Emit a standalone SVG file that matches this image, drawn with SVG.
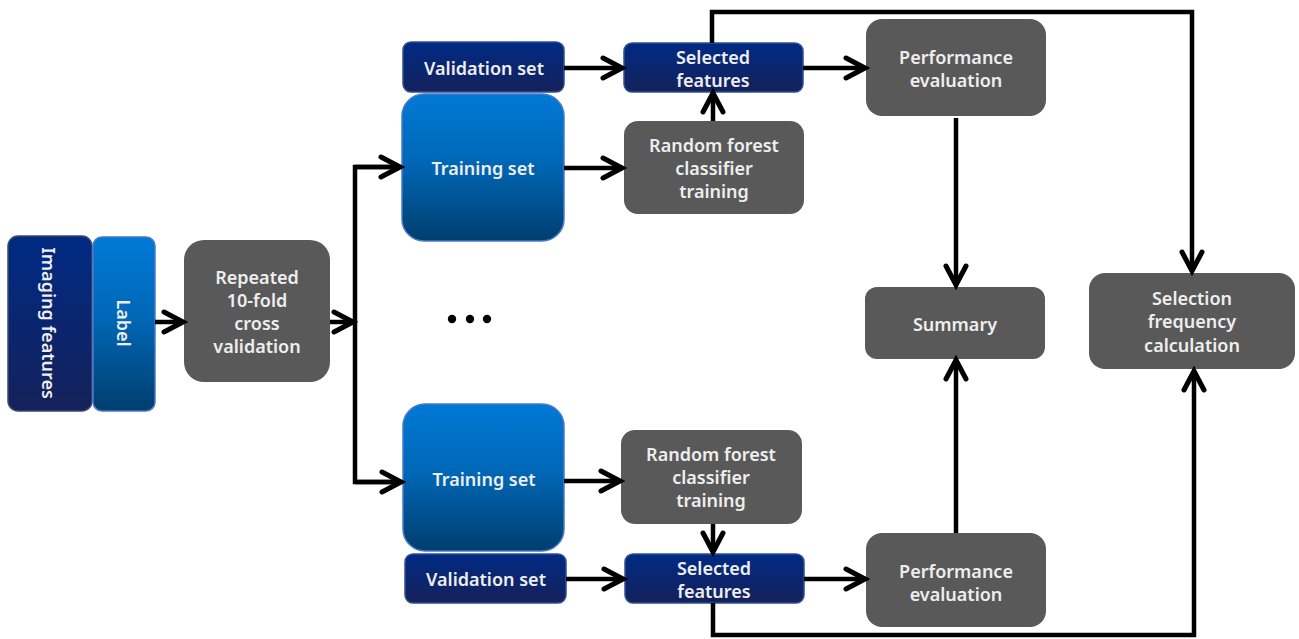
<svg xmlns="http://www.w3.org/2000/svg" width="1299" height="639" viewBox="0 0 1299 639">
<defs>
<linearGradient id="navy" x1="0" y1="0" x2="0" y2="1">
<stop offset="0" stop-color="#002a84"/>
<stop offset="1" stop-color="#15215a"/>
</linearGradient>
<linearGradient id="blue" x1="0" y1="0" x2="0" y2="1">
<stop offset="0" stop-color="#0079d6"/>
<stop offset="0.45" stop-color="#0068b8"/>
<stop offset="1" stop-color="#003e6e"/>
</linearGradient>
<marker id="arr" markerUnits="userSpaceOnUse" viewBox="-4 -4 30 30" markerWidth="30" markerHeight="30" refX="21" refY="11" orient="auto">
<path d="M2,1 L21,11 L2,21" fill="none" stroke="#000" stroke-width="5" stroke-linecap="round" stroke-linejoin="miter"/>
</marker>
<style>
.gray{fill:#595959;}
.navy{fill:url(#navy);stroke:#2e4f91;stroke-width:1.5;}
.blue{fill:url(#blue);stroke:#4a78cc;stroke-width:1.5;}
.t{font-family:"Noto Sans","Open Sans","Liberation Sans",sans-serif;font-size:18px;font-weight:600;fill:#eeeeee;text-anchor:middle;dominant-baseline:central;}
.c{fill:none;stroke:#000;stroke-width:4.5;}
.a{marker-end:url(#arr);}
</style>
</defs>

<g id="imaging-features">
<rect x="8" y="236" width="84" height="175" rx="10" fill="url(#navy)" stroke="#3b4a6b" stroke-width="1.5"/>
<text class="t" transform="translate(49,323) rotate(90)">Imaging features</text>
</g>
<g id="label">
<rect x="93" y="237" width="62" height="174" rx="9" class="blue"/>
<text class="t" transform="translate(124,323) rotate(90)">Label</text>
</g>
<g id="repeated-cv">
<rect x="184" y="240" width="146" height="142" rx="20" class="gray"/>
<text class="t" x="257" y="277">Repeated</text>
<text class="t" x="257" y="300">10-fold</text>
<text class="t" x="257" y="323">cross</text>
<text class="t" x="257" y="346">validation</text>
</g>

<g id="validation-set-1">
<rect x="403" y="42" width="161" height="50" rx="8" class="navy"/>
<text class="t" x="484" y="68">Validation set</text>
</g>
<g id="training-set-1">
<rect x="402" y="94" width="162" height="147" rx="22" class="blue"/>
<text class="t" x="483" y="168">Training set</text>
</g>
<g id="selected-features-1">
<rect x="624" y="43" width="179" height="49" rx="8" class="navy"/>
<text class="t" x="713" y="57">Selected</text>
<text class="t" x="713" y="80">features</text>
</g>
<g id="random-forest-1">
<rect x="624" y="121" width="180" height="93" rx="14" class="gray"/>
<text class="t" x="714" y="145">Random forest</text>
<text class="t" x="714" y="168">classifier</text>
<text class="t" x="714" y="191">training</text>
</g>
<g id="performance-evaluation-1">
<rect x="866" y="19" width="180" height="97" rx="16" class="gray"/>
<text class="t" x="956" y="57">Performance</text>
<text class="t" x="956" y="80">evaluation</text>
</g>

<g id="ellipsis">
<circle cx="452" cy="319" r="4.2" fill="#000"/>
<circle cx="470" cy="319" r="4.2" fill="#000"/>
<circle cx="487" cy="319" r="4.2" fill="#000"/>
</g>

<g id="summary">
<rect x="865" y="287" width="180" height="72" rx="12" class="gray"/>
<text class="t" x="955" y="324">Summary</text>
</g>
<g id="selection-frequency">
<rect x="1089" y="273" width="206" height="96" rx="16" class="gray"/>
<text class="t" x="1192" y="298">Selection</text>
<text class="t" x="1192" y="321">frequency</text>
<text class="t" x="1192" y="345">calculation</text>
</g>

<g id="training-set-2">
<rect x="403" y="404" width="161" height="147" rx="22" class="blue"/>
<text class="t" x="484" y="479">Training set</text>
</g>
<g id="validation-set-2">
<rect x="405" y="554" width="161" height="49" rx="8" class="navy"/>
<text class="t" x="486" y="579">Validation set</text>
</g>
<g id="random-forest-2">
<rect x="621" y="430" width="181" height="94" rx="14" class="gray"/>
<text class="t" x="711" y="454">Random forest</text>
<text class="t" x="711" y="477">classifier</text>
<text class="t" x="711" y="500">training</text>
</g>
<g id="selected-features-2">
<rect x="625" y="554" width="179" height="49" rx="8" class="navy"/>
<text class="t" x="714" y="568">Selected</text>
<text class="t" x="714" y="591">features</text>
</g>
<g id="performance-evaluation-2">
<rect x="866" y="533" width="180" height="94" rx="16" class="gray"/>
<text class="t" x="956" y="571">Performance</text>
<text class="t" x="956" y="594">evaluation</text>
</g>

<g id="connectors">
<line class="c a" x1="155" y1="322" x2="183" y2="322"/>
<line class="c a" x1="330" y1="322" x2="353" y2="322"/>
<polyline class="c" points="400,167 355,167 355,482 400,482"/>
<line class="c a" x1="355" y1="167" x2="400" y2="167"/>
<line class="c a" x1="355" y1="482" x2="401" y2="482"/>
<line class="c a" x1="564" y1="68" x2="622" y2="68"/>
<line class="c a" x1="564" y1="168" x2="622" y2="168"/>
<line class="c a" x1="713" y1="121" x2="713" y2="93"/>
<line class="c a" x1="803" y1="68" x2="865" y2="68"/>
<polyline class="c a" points="712,43 712,12 1192,12 1192,271"/>
<line class="c a" x1="956" y1="118" x2="956" y2="285"/>
<line class="c a" x1="956" y1="533" x2="956" y2="360"/>
<line class="c a" x1="564" y1="481" x2="620" y2="481"/>
<line class="c a" x1="713" y1="524" x2="713" y2="552"/>
<line class="c a" x1="566" y1="579" x2="623" y2="579"/>
<line class="c a" x1="804" y1="579" x2="865" y2="579"/>
<polyline class="c a" points="713,603 713,635 1194,635 1194,371"/>
</g>
</svg>
